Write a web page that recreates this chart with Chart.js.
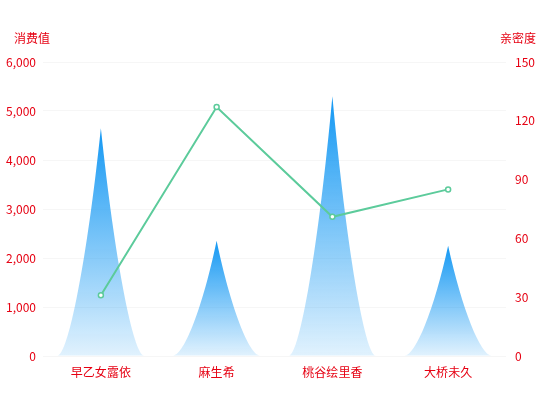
<!DOCTYPE html>
<html>
<head>
<meta charset="utf-8">
<script src="https://cdn.jsdelivr.net/npm/chart.js@4.4.1/dist/chart.umd.min.js"></script>
<style>
  html, body { margin: 0; padding: 0; background: #fff; }
  #wrap { width: 550px; height: 420px; }
</style>
</head>
<body>
<div id="wrap"><canvas id="mycanvas"></canvas></div>
<script>
var names = ['早乙女露依', '麻生希', '桃谷绘里香', '大桥未久'];
var spend = [4650, 2350, 5300, 2250];
var intimacy = [31, 127, 71, 85];
var leftTicks = [0, 1000, 2000, 3000, 4000, 5000, 6000];
var rightTicks = [0, 30, 60, 90, 120, 150];

var red = '#e60012';
var font = { family: "'Helvetica Neue', 'Noto Sans CJK SC', 'Liberation Sans', sans-serif", size: 12 };

// draw each bar as a spike shape, using the bar element's own geometry
var spikes = {
	id: 'spikes',
	beforeDatasetDraw: function(chart, args) {
		if (args.meta.type !== 'bar') return;
		var ctx = chart.ctx;
		args.meta.data.forEach(function(bar) {
			var p = bar.getProps(['x', 'y', 'base', 'width'], true);
			var l = p.x - p.width / 2, w = p.width, t = p.y, h = p.base - p.y;
			var X = function(v) { return l + w * v / 10; };
			var Y = function(v) { return t + h * v / 10; };
			var g = ctx.createLinearGradient(0, t, 0, p.base);
			g.addColorStop(0, 'rgba(20,152,243,1)');
			g.addColorStop(1, 'rgba(20,152,243,0.13)');
			ctx.save();
			ctx.beginPath();
			ctx.moveTo(X(0), Y(10));
			ctx.lineTo(X(10), Y(10));
			ctx.bezierCurveTo(X(8.75), Y(10), X(6.6), Y(5.8), X(5), Y(0));
			ctx.bezierCurveTo(X(3.4), Y(5.8), X(1.25), Y(10), X(0), Y(10));
			ctx.closePath();
			ctx.fillStyle = g;
			ctx.fill();
			ctx.restore();
		});
		return false;
	}
};

// axis names above each y axis
var axisNames = {
	id: 'axisNames',
	afterDraw: function(chart) {
		var ctx = chart.ctx;
		ctx.save();
		ctx.fillStyle = red;
		ctx.font = font.size + 'px ' + font.family;
		ctx.textAlign = 'center';
		ctx.textBaseline = 'middle';
		ctx.fillText('消费值', 32, 38);
		ctx.fillText('亲密度', 518, 38);
		ctx.restore();
	}
};

var ctx = document.getElementById('mycanvas');
var chart = new Chart(ctx, {
	type: 'bar',
	data: {
		labels: names,
		datasets: [
			{
				type: 'line',
				label: '亲密度',
				data: intimacy,
				yAxisID: 'y1',
				borderColor: '#5ccb9b',
				borderWidth: 2,
				pointRadius: 2.5,
				pointBorderWidth: 1.5,
				pointBackgroundColor: '#fff',
				pointBorderColor: '#5ccb9b',
				order: 0
			},
			{
				type: 'bar',
				label: '消费值',
				data: spend,
				yAxisID: 'y',
				backgroundColor: 'rgba(0,0,0,0)',
				categoryPercentage: 1,
				barPercentage: 0.75,
				order: 1
			}
		]
	},
	options: {
		responsive: true,
		maintainAspectRatio: false,
		animation: false,
		layout: { padding: { top: 62, bottom: 0, left: 0, right: 0 } },
		plugins: { legend: { display: false }, tooltip: { enabled: false } },
		scales: {
			x: {
				grid: { display: false, drawTicks: false },
				border: { display: false },
				ticks: { color: red, font: font, padding: 9 },
				afterFit: function(s) { s.height = 64; }
			},
			y: {
				position: 'left',
				min: 0, max: 6000,
				afterBuildTicks: function(s) { s.ticks = leftTicks.map(function(v) { return { value: v }; }); },
				grid: { color: 'rgba(0,0,0,0.035)', drawTicks: false },
				border: { display: false },
				ticks: { color: red, font: font, padding: 7,
					callback: function(v) { return v.toLocaleString('en-US'); } },
				afterFit: function(s) { s.width = 43; }
			},
			y1: {
				position: 'right',
				min: 0, max: 150,
				afterBuildTicks: function(s) { s.ticks = rightTicks.map(function(v) { return { value: v }; }); },
				grid: { display: false, drawTicks: false },
				border: { display: false },
				ticks: { color: red, font: font, padding: 9 },
				afterFit: function(s) { s.width = 44; }
			}
		}
	},
	plugins: [spikes, axisNames]
});
</script>
</body>
</html>
